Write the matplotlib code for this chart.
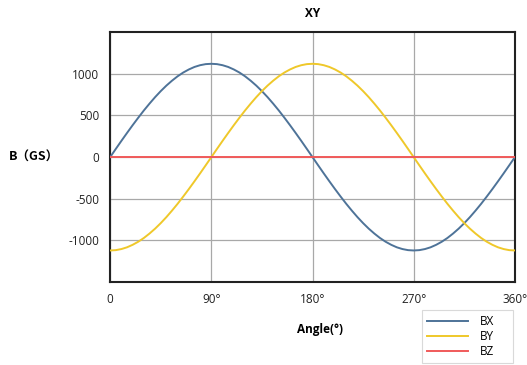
import matplotlib
matplotlib.use("Agg")
import matplotlib.pyplot as plt

# angle in degrees, values every 5 deg
angles = list(range(0, 361, 5))
bx = [0, 98, 195, 290, 383, 473, 560, 642, 720, 792, 858, 917, 970, 1015, 1052, 1082, 1103, 1116, 1120,
      1116, 1103, 1082, 1052, 1015, 970, 917, 858, 792, 720, 642, 560, 473, 383, 290, 195, 98, 0,
      -98, -195, -290, -383, -473, -560, -642, -720, -792, -858, -917, -970, -1015, -1052, -1082, -1103, -1116, -1120,
      -1116, -1103, -1082, -1052, -1015, -970, -917, -858, -792, -720, -642, -560, -473, -383, -290, -195, -98, 0]
by = [-1120, -1116, -1103, -1082, -1052, -1015, -970, -917, -858, -792, -720, -642, -560, -473, -383, -290, -195, -98, 0,
      98, 195, 290, 383, 473, 560, 642, 720, 792, 858, 917, 970, 1015, 1052, 1082, 1103, 1116, 1120,
      1116, 1103, 1082, 1052, 1015, 970, 917, 858, 792, 720, 642, 560, 473, 383, 290, 195, 98, 0,
      -98, -195, -290, -383, -473, -560, -642, -720, -792, -858, -917, -970, -1015, -1052, -1082, -1103, -1116, -1120]
bz = [0] * len(angles)

xticks = [0, 90, 180, 270, 360]
xticklabels = ["0", "90°", "180°", "270°", "360°"]
yticks = [-1000, -500, 0, 500, 1000]

plt.rcParams['font.family'] = ['Open Sans', 'Noto Sans CJK SC', 'DejaVu Sans']
plt.rcParams['axes.unicode_minus'] = False

fig = plt.figure(figsize=(5.27, 3.65), dpi=100)
ax = fig.add_axes([0.209, 0.227, 0.768, 0.685])

ax.plot(angles, bx, color='#4E7398', lw=1.4, label='BX', zorder=3)
ax.plot(angles, by, color='#EFC82A', lw=1.4, label='BY', zorder=3)
ax.plot(angles, bz, color='#F05A5A', lw=1.4, label='BZ', zorder=3)

ax.set_xlim(0, 360)
ax.set_ylim(-1500, 1500)
ax.set_xticks(xticks)
ax.set_xticklabels(xticklabels)
ax.set_yticks(yticks)
ax.tick_params(length=0, labelsize=8.5, pad=8, colors='#222222')
ax.grid(True, color='#A8A8A8', lw=0.9)
ax.set_axisbelow(True)
for s in ax.spines.values():
    s.set_linewidth(1.5)
    s.set_color('#222222')

fig.text(0.594, 0.963, 'XY', ha='center', va='center', fontsize=8.5, fontweight='bold')
fig.text(0.064, 0.570, 'B（GS）', ha='center', va='center', fontsize=9, fontweight='bold',
         family=['Noto Sans CJK SC', 'DejaVu Sans'])
fig.text(0.607, 0.096, 'Angle(°)', ha='center', va='center', fontsize=8.5, fontweight='bold')

# fixed box for the legend, like the excel one
leg = fig.legend(loc='upper left', bbox_to_anchor=(0.801, 0.006, 0.173, 0.145), mode='expand',
                 borderaxespad=0, fontsize=8.5, frameon=True, fancybox=False, handlelength=3.4,
                 labelspacing=0.15, borderpad=0.45, handletextpad=1.0)
leg.get_frame().set_edgecolor('#D0D0D0')
leg.get_frame().set_linewidth(0.8)

fig.savefig('out.png', dpi=100)
